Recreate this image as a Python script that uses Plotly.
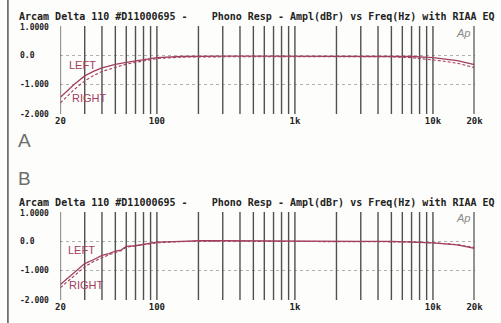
import plotly.graph_objects as go

# Frequency points (Hz) and measured response (dBr) for both panels
freq_a = [20, 25, 30, 35, 40, 50, 60, 70, 80, 100, 150, 200, 300, 500, 1000,
          2000, 3000, 5000, 7000, 10000, 12000, 15000, 20000]
left_a = [-1.43, -1.0, -0.70, -0.54, -0.43, -0.31, -0.24, -0.19, -0.15, -0.08, -0.04,
          -0.03, -0.03, -0.03, -0.03, -0.03, -0.03, -0.03, -0.04, -0.08, -0.12, -0.18, -0.32]
right_a = [-1.62, -1.18, -0.87, -0.68, -0.55, -0.40, -0.30, -0.24, -0.19, -0.11, -0.06,
           -0.05, -0.05, -0.05, -0.05, -0.05, -0.05, -0.05, -0.08, -0.15, -0.20, -0.27, -0.42]

freq_b = [20, 25, 30, 35, 40, 45, 50, 55, 60, 70, 80, 90, 100, 150, 200, 300, 500, 1000,
          2000, 3000, 5000, 7000, 10000, 15000, 20000]
left_b = [-1.47, -1.08, -0.76, -0.62, -0.48, -0.42, -0.33, -0.30, -0.17, -0.15, -0.10,
          -0.06, -0.03, 0.0, 0.02, 0.02, 0.01, 0.0, 0.0, 0.0, 0.0, -0.02, -0.05, -0.12, -0.24]
right_b = [-1.58, -1.20, -0.87, -0.68, -0.55, -0.46, -0.38, -0.32, -0.20, -0.16, -0.12,
           -0.08, -0.05, -0.01, 0.0, 0.01, 0.0, 0.0, 0.0, 0.0, 0.0, -0.02, -0.05, -0.11, -0.21]

grid_freqs = [20, 30, 40, 50, 60, 70, 80, 90, 100, 200, 300, 400, 500, 600, 700, 800, 900,
              1000, 2000, 3000, 4000, 5000, 6000, 7000, 8000, 9000, 10000]
freq_ticks = [20, 100, 1000, 10000, 20000]
freq_labels = ["20", "100", "1k", "10k", "20k"]
level_ticks = [1, 0, -1, -2]
level_labels = ["1.0000", "0.0", "-1.000", "-2.000"]

title_text = "Arcam Delta 110 #D11000695 -    Phono Resp - Ampl(dBr) vs Freq(Hz) with RIAA EQ"

W, H = 501, 323
CURVE = "#a23f5e"
MONO = "DejaVu Sans Mono"

# panel geometry in pixels: plotting area top/bottom, title row, letter, labels
panels = [
    dict(name="A", top=26, bottom=114, title_y=16, letter_y=140, ap_y=33,
         left_lbl=(80, 65), right_lbl=(87, 98),
         f=freq_a, l=left_a, r=right_a),
    dict(name="B", top=212, bottom=300, title_y=202, letter_y=178, ap_y=218,
         left_lbl=(79, 250), right_lbl=(84, 285),
         f=freq_b, l=left_b, r=right_b),
]

x0_px, x1_px = 57, 483


def px(xp, yp):
    return xp / W, 1 - yp / H


fig = go.Figure()
annotations = []

for i, p in enumerate(panels):
    xa = "x" if i == 0 else f"x{i+1}"
    ya = "y" if i == 0 else f"y{i+1}"

    # vertical decade/sub-decade grid, drawn as one broken polyline
    gx, gy = [], []
    for gv in grid_freqs:
        gx += [gv, gv, None]
        gy += [-2, 1, None]
    fig.add_trace(go.Scatter(x=gx, y=gy, mode="lines", xaxis=xa, yaxis=ya,
                             line=dict(color="#505050", width=1.4),
                             hoverinfo="skip", showlegend=False))
    # right-hand frame edge at 20 kHz
    fig.add_trace(go.Scatter(x=[20000, 20000], y=[-2, 1], mode="lines", xaxis=xa, yaxis=ya,
                             line=dict(color="#2a2a2a", width=2.0),
                             hoverinfo="skip", showlegend=False))

    fig.add_trace(go.Scatter(x=p["f"], y=p["l"], mode="lines", xaxis=xa, yaxis=ya,
                             line=dict(color=CURVE, width=1.3), showlegend=False))
    fig.add_trace(go.Scatter(x=p["f"], y=p["r"], mode="lines", xaxis=xa, yaxis=ya,
                             line=dict(color=CURVE, width=1.1, dash="3px,2px"),
                             showlegend=False))

    dom_y = [1 - p["bottom"] / H, 1 - p["top"] / H]
    dom_x = [x0_px / W, x1_px / W]
    xkey = "xaxis" if i == 0 else f"xaxis{i+1}"
    ykey = "yaxis" if i == 0 else f"yaxis{i+1}"
    fig.layout[xkey] = dict(
        type="log", domain=dom_x, range=[1.30103, 4.30103], anchor=ya,
        tickvals=freq_ticks, ticktext=[f"<b>{t}</b>" for t in freq_labels],
        showgrid=False, showline=False, zeroline=False, ticks="",
        tickfont=dict(family=MONO, size=9, color="#222"),
    )
    fig.layout[ykey] = dict(
        domain=dom_y, range=[-2, 1], anchor=xa,
        tickvals=[0, -1, -2], showticklabels=False, ticks="",
        showgrid=True, gridcolor="#b0b0b0", gridwidth=1, griddash="dot",
        zeroline=False, showline=False,
    )

    # title row
    tx, ty = px(13, p["title_y"])
    annotations.append(dict(text=f"<b>{title_text}</b>", xref="paper", yref="paper",
                            x=tx, y=ty, xanchor="left", yanchor="middle", borderpad=0,
                            showarrow=False, font=dict(family=MONO, size=10, color="#222")))
    # level labels, left-aligned like the plotter output
    for v, t in zip(level_ticks, level_labels):
        annotations.append(dict(text=f"<b>{t}</b>", xref="paper", yref=ya, x=14 / W, y=v,
                                yshift=-1 if v == 1 else 0, borderpad=0,
                                xanchor="left", yanchor="middle", showarrow=False,
                                font=dict(family=MONO, size=8, color="#222")))
    # channel labels
    lx, ly = px(*p["left_lbl"])
    annotations.append(dict(text="LEFT", xref="paper", yref="paper", x=lx, y=ly,
                            xanchor="center", yanchor="middle", showarrow=False,
                            font=dict(family="Liberation Sans", size=11, color=CURVE)))
    rx, ry = px(*p["right_lbl"])
    annotations.append(dict(text="RIGHT", xref="paper", yref="paper", x=rx, y=ry,
                            xanchor="center", yanchor="middle", showarrow=False,
                            font=dict(family="Liberation Sans", size=11, color=CURVE)))
    # Ap logo
    ax_, ay_ = px(471, p["ap_y"])
    annotations.append(dict(text="<i>Ap</i>", xref="paper", yref="paper", x=ax_, y=ay_,
                            xanchor="center", yanchor="middle", showarrow=False, borderpad=0,
                            font=dict(family="Liberation Sans", size=11, color="#8a8a8a")))
    # panel letter
    bx, by = px(20, p["letter_y"])
    annotations.append(dict(text=p["name"], xref="paper", yref="paper", x=bx, y=by,
                            xanchor="center", yanchor="middle", showarrow=False,
                            font=dict(family="Liberation Sans", size=19, color="#6e6e6e")))

# scan border on the left edge
fig.add_shape(type="line", xref="paper", yref="paper", x0=3 / W, x1=3 / W, y0=0, y1=1,
              line=dict(color="#555", width=1.5))

fig.update_layout(
    width=W, height=H, margin=dict(l=0, r=0, t=0, b=0),
    paper_bgcolor="#fdfdfb", plot_bgcolor="rgba(0,0,0,0)",
    annotations=annotations, showlegend=False,
)

fig.write_html("out.html")
